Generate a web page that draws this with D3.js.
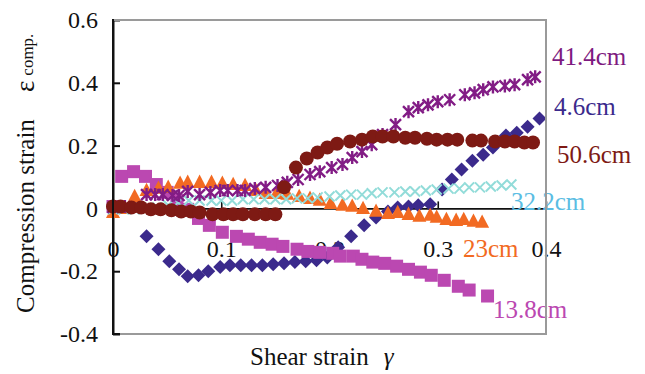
<!DOCTYPE html>
<html><head><meta charset="utf-8">
<script src="https://cdn.jsdelivr.net/npm/d3@7"></script>
<style>
html,body{margin:0;padding:0;background:#fff;}
svg{display:block;}
svg text{font-family:"Liberation Serif","Times New Roman",serif !important;}
</style></head>
<body>
<svg id="c" width="645" height="374"></svg>
<script>
// ---- data ----
const xTicks = [0, 0.1, 0.2, 0.3, 0.4];
const xTickLabels = ["0", "0.1", "0.2", "0.3", "0.4"];
const yTicks = [-0.4, -0.2, 0, 0.2, 0.4, 0.6];
const yTickLabels = ["-0.4", "-0.2", "0", "0.2", "0.4", "0.6"];

const s46x = [0.031,0.042,0.052,0.061,0.069,0.079,0.088,0.099,0.108,0.118,0.128,0.138,0.148,0.158,0.168,0.178,0.188,0.198,0.208,0.220,0.232,0.243,0.254,0.263,0.273,0.282,0.293,0.304,0.313,0.322,0.332,0.342,0.351,0.363,0.373,0.383,0.394];
const s46y = [-0.089,-0.130,-0.168,-0.194,-0.216,-0.213,-0.200,-0.187,-0.181,-0.181,-0.181,-0.181,-0.178,-0.175,-0.171,-0.168,-0.165,-0.156,-0.124,-0.089,-0.054,-0.029,-0.010,0.003,0.006,0.010,0.013,0.060,0.092,0.124,0.152,0.171,0.194,0.232,0.241,0.260,0.286];

const s138x = [0,0.008,0.019,0.030,0.040,0.050,0.059,0.069,0.079,0.089,0.101,0.114,0.125,0.136,0.147,0.157,0.170,0.180,0.191,0.203,0.210,0.222,0.230,0.240,0.251,0.262,0.273,0.284,0.294,0.306,0.319,0.329,0.346];
const s138y = [0.006,0.102,0.117,0.102,0.076,0.051,0.025,-0.003,-0.032,-0.054,-0.076,-0.089,-0.098,-0.108,-0.114,-0.121,-0.130,-0.137,-0.140,-0.143,-0.152,-0.152,-0.162,-0.171,-0.175,-0.184,-0.194,-0.203,-0.213,-0.229,-0.248,-0.260,-0.279];

const s23x = [0,0.010,0.020,0.031,0.042,0.051,0.062,0.069,0.080,0.091,0.101,0.111,0.122,0.132,0.141,0.151,0.161,0.172,0.182,0.191,0.201,0.212,0.221,0.231,0.243,0.254,0.263,0.273,0.283,0.293,0.299,0.308,0.317,0.324,0.333,0.341];
const s23y = [-0.010,0.003,0.041,0.060,0.067,0.070,0.083,0.086,0.086,0.086,0.083,0.079,0.076,0.060,0.051,0.051,0.048,0.041,0.035,0.029,0.019,0.013,0.010,0.003,-0.006,-0.013,-0.010,-0.016,-0.022,-0.019,-0.025,-0.032,-0.035,-0.032,-0.038,-0.041];

const s322x = [0,0.010,0.020,0.031,0.041,0.051,0.060,0.070,0.080,0.091,0.100,0.110,0.120,0.130,0.140,0.150,0.160,0.170,0.180,0.189,0.200,0.210,0.220,0.230,0.239,0.249,0.260,0.270,0.279,0.289,0.299,0.310,0.320,0.329,0.339,0.349,0.359,0.368];
const s322y = [-0.003,-0.003,-0.003,0,0.003,0.010,0.019,0.025,0.025,0.025,0.025,0.025,0.029,0.029,0.029,0.029,0.029,0.032,0.032,0.035,0.038,0.041,0.044,0.044,0.048,0.051,0.051,0.054,0.054,0.057,0.060,0.063,0.063,0.067,0.067,0.070,0.073,0.076];

const s414x = [0,0.011,0.031,0.039,0.046,0.055,0.061,0.069,0.080,0.090,0.099,0.106,0.115,0.122,0.131,0.141,0.152,0.161,0.171,0.182,0.191,0.202,0.212,0.221,0.230,0.239,0.249,0.261,0.273,0.282,0.291,0.300,0.311,0.325,0.334,0.342,0.351,0.362,0.371,0.383,0.390];
const s414y = [0.003,0.006,0.044,0.044,0.044,0.041,0.041,0.054,0.044,0.051,0.057,0.057,0.057,0.057,0.063,0.067,0.073,0.083,0.092,0.108,0.117,0.130,0.140,0.162,0.181,0.203,0.235,0.267,0.308,0.321,0.330,0.340,0.346,0.362,0.368,0.378,0.387,0.390,0.394,0.410,0.419];

const s506x = [0,0.007,0.017,0.026,0.035,0.044,0.054,0.063,0.072,0.080,0.092,0.102,0.111,0.120,0.131,0.141,0.150,0.158,0.169,0.179,0.189,0.198,0.207,0.219,0.230,0.240,0.249,0.259,0.270,0.279,0.290,0.299,0.309,0.318,0.332,0.340,0.353,0.362,0.371,0.380,0.388];
const s506y = [0.006,0.006,0.003,0.003,-0.003,-0.003,-0.006,-0.010,-0.010,-0.013,-0.019,-0.019,-0.019,-0.019,-0.019,-0.019,-0.019,0.067,0.130,0.159,0.178,0.194,0.206,0.213,0.219,0.229,0.229,0.229,0.225,0.225,0.222,0.219,0.219,0.219,0.216,0.216,0.213,0.213,0.213,0.210,0.210];

const seriesNames = ["4.6cm", "13.8cm", "23cm", "32.2cm", "41.4cm", "50.6cm"];

// ---- layout ----
const svg = d3.select("#c");
const X0 = 113, X1 = 546, Y0 = 20, Y1 = 334;
const x = d3.scaleLinear().domain([0, 0.4]).range([X0, X1]);
const y = d3.scaleLinear().domain([-0.4, 0.6]).range([Y1, Y0]);
const zip = (a, b) => a.map((v, i) => [v, b[i]]);

// y axis
const yAxis = svg.append("g").attr("transform", `translate(${X0},0)`)
  .call(d3.axisLeft(y).tickValues(yTicks).tickFormat((d, i) => yTickLabels[i])
    .tickSizeInner(-7).tickSizeOuter(0).tickPadding(15));
yAxis.attr("font-family", null).attr("font-size", null);
yAxis.select(".domain").attr("stroke", "#111").attr("stroke-width", 2);
yAxis.selectAll(".tick line").attr("stroke", "#111").attr("stroke-width", 2);
yAxis.selectAll("text").attr("font-size", 24).attr("fill", "#111");

// x axis at y = 0
const xAxis = svg.append("g").attr("transform", `translate(0,${y(0)})`)
  .call(d3.axisBottom(x).tickValues(xTicks).tickFormat((d, i) => xTickLabels[i])
    .tickSizeInner(-7).tickSizeOuter(0).tickPadding(32));
xAxis.attr("font-family", null).attr("font-size", null);
xAxis.select(".domain").attr("stroke", "#111").attr("stroke-width", 1.6);
xAxis.selectAll(".tick line").attr("stroke", "#111").attr("stroke-width", 1.6);
xAxis.selectAll("text").attr("font-size", 24).attr("fill", "#111");

// axis titles
svg.append("text").attr("transform", "translate(34,216) rotate(-90)")
  .attr("text-anchor", "middle").attr("font-size", 25).attr("fill", "#111")
  .text("Compression strain");
const eps = svg.append("text").attr("transform", "translate(34,92) rotate(-90)")
  .attr("text-anchor", "start").attr("fill", "#111");
eps.append("tspan").attr("font-size", 27).text("ε");
eps.append("tspan").attr("font-size", 17).attr("dx", 5).attr("dy", -1).text("comp.");

const xt = svg.append("text").attr("x", 250).attr("y", 365).attr("font-size", 25).attr("fill", "#111");
xt.append("tspan").text("Shear strain");
xt.append("tspan").attr("dx", 15).attr("font-style", "italic").text("γ");

// ---- markers ----
const g = svg.append("g");
g.selectAll(".d46").data(zip(s46x, s46y)).join("path")
  .attr("transform", d => `translate(${x(d[0])},${y(d[1])})`)
  .attr("d", "M0,-7L7,0L0,7L-7,0Z").attr("fill", "#3B2A8C");
g.selectAll(".s138").data(zip(s138x, s138y)).join("path")
  .attr("transform", d => `translate(${x(d[0])},${y(d[1])})`)
  .attr("d", "M-6.5,-6.5H6.5V6.5H-6.5Z").attr("fill", "#BB48B1");
g.selectAll(".t23").data(zip(s23x, s23y)).join("path")
  .attr("transform", d => `translate(${x(d[0])},${y(d[1])})`)
  .attr("d", "M0,-6.8L7,6.5L-7,6.5Z").attr("fill", "#F26A22");
g.selectAll(".x322").data(zip(s322x, s322y)).join("path")
  .attr("transform", d => `translate(${x(d[0])},${y(d[1])})`)
  .attr("d", "M-5,-5L5,5M5,-5L-5,5").attr("stroke", "#92DCD9").attr("stroke-width", 2).attr("fill", "none");
g.selectAll(".a414").data(zip(s414x, s414y)).join("path")
  .attr("transform", d => `translate(${x(d[0])},${y(d[1])})`)
  .attr("d", "M-5.5,-5.5L5.5,5.5M5.5,-5.5L-5.5,5.5M0,-6.5V6.5").attr("stroke", "#821C85").attr("stroke-width", 2.4).attr("fill", "none");
g.selectAll(".c506").data(zip(s506x, s506y)).join("circle")
  .attr("cx", d => x(d[0])).attr("cy", d => y(d[1])).attr("r", 7).attr("fill", "#7E1A14");

// ---- series labels ----
const labels = [
  {t: seriesNames[4], x: 552, y: 65, c: "#7E1A80"},
  {t: seriesNames[0], x: 554, y: 115, c: "#3B2A8C"},
  {t: seriesNames[5], x: 557, y: 163, c: "#7E1A14"},
  {t: seriesNames[3], x: 511, y: 210, c: "#5BBDE3"},
  {t: seriesNames[2], x: 463, y: 257, c: "#F26A22"},
  {t: seriesNames[1], x: 493, y: 318, c: "#BB48B1"}
];
svg.append("g").selectAll("text").data(labels).join("text")
  .attr("x", d => d.x).attr("y", d => d.y).attr("fill", d => d.c)
  .attr("font-size", 25).text(d => d.t);

// ---- frame ----
svg.append("path").attr("d", `M${X0},${Y0}H${X1}V${Y1}H${X0}`)
  .attr("fill", "none").attr("stroke", "#9A9A9A").attr("stroke-width", 2);
svg.append("line").attr("x1", X0).attr("x2", X0).attr("y1", Y0 - 1).attr("y2", Y1 + 1)
  .attr("stroke", "#111").attr("stroke-width", 2);
svg.append("line").attr("x1", X0).attr("x2", X0 + 7).attr("y1", Y1).attr("y2", Y1)
  .attr("stroke", "#111").attr("stroke-width", 2);
</script>
</body></html>
